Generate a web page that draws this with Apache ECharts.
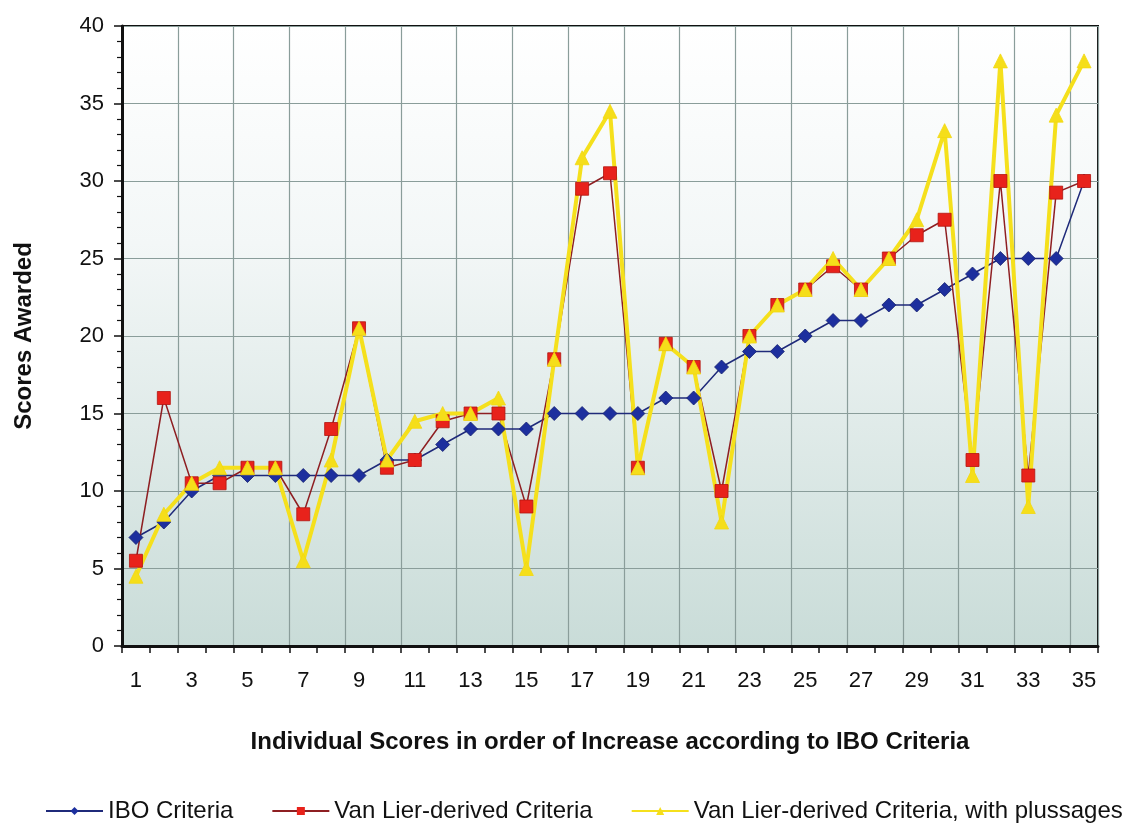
<!DOCTYPE html>
<html>
<head>
<meta charset="utf-8">
<title>Scores Awarded</title>
<script src="https://cdn.jsdelivr.net/npm/echarts@6/dist/echarts.min.js"></script>
<style>
  html, body { margin: 0; padding: 0; background: #ffffff; }
  #chart { width: 1141px; height: 828px; }
</style>
</head>
<body>
<div id="chart"></div>
<script>
// Individual scores, ordered by increasing IBO score
const categories = ['1','2','3','4','5','6','7','8','9','10','11','12','13','14','15','16','17','18',
  '19','20','21','22','23','24','25','26','27','28','29','30','31','32','33','34','35'];

const iboCriteria = [7, 8, 10, 11, 11, 11, 11, 11, 11, 12, 12, 13, 14, 14, 14, 15, 15, 15,
  15, 16, 16, 18, 19, 19, 20, 21, 21, 22, 22, 23, 24, 25, 25, 25, 30];

const vanLier = [5.5, 16, 10.5, 10.5, 11.5, 11.5, 8.5, 14, 20.5, 11.5, 12, 14.5, 15, 15, 9, 18.5, 29.5, 30.5,
  11.5, 19.5, 18, 10, 20, 22, 23, 24.5, 23, 25, 26.5, 27.5, 12, 30, 11, 29.25, 30];

const vanLierPlus = [4.5, 8.5, 10.5, 11.5, 11.5, 11.5, 5.5, 12, 20.5, 12, 14.5, 15, 15, 16, 5, 18.5, 31.5, 34.5,
  11.5, 19.5, 18, 8, 20, 22, 23, 25, 23, 25, 27.5, 33.25, 11, 37.75, 9, 34.25, 37.75];

const seriesNames = ['IBO Criteria', 'Van Lier-derived Criteria', 'Van Lier-derived Criteria, with plussages'];

const chart = echarts.init(document.getElementById('chart'), null, { renderer: 'canvas' });

const styles = [
  { data: iboCriteria, line: '#1f2a7a', lineWidth: 1.5, fill: '#1d2f9e', border: '#14206e', symbol: 'diamond', size: 14, legendSize: 9 },
  { data: vanLier, line: '#8e1f22', lineWidth: 1.5, fill: '#e8221b', border: '#b3140f', symbol: 'rect', size: 13, legendSize: 9 },
  { data: vanLierPlus, line: '#f5e01c', lineWidth: 4, fill: '#f5de1a', border: '#f2d80f', symbol: 'triangle', size: 14, legendSize: 9 }
];

// Lines first, markers on top of every line
const lineSeries = styles.map((s, i) => ({
  name: seriesNames[i],
  type: 'line',
  data: s.data,
  showSymbol: false,
  symbol: s.symbol,
  symbolSize: s.legendSize,
  itemStyle: { color: s.fill },
  lineStyle: { color: s.line, width: s.lineWidth },
  z: 3,
  animation: false
}));

const markerSeries = styles.map((s, i) => ({
  name: seriesNames[i],
  type: 'scatter',
  data: s.data,
  symbol: s.symbol,
  symbolSize: s.size,
  itemStyle: { color: s.fill, borderColor: s.border, borderWidth: 0.8, opacity: 1 },
  z: 4,
  animation: false
}));

const option = {
  backgroundColor: '#ffffff',
  textStyle: { fontFamily: 'Liberation Sans, Arial, sans-serif' },
  grid: {
    left: 122, top: 26, right: 43, bottom: 182,
    show: true,
    borderColor: '#111111',
    borderWidth: 2,
    backgroundColor: {
      type: 'linear', x: 0, y: 0, x2: 0, y2: 1,
      colorStops: [
        { offset: 0, color: '#ffffff' },
        { offset: 0.35, color: '#f3f7f7' },
        { offset: 1, color: '#c9dcd8' }
      ]
    }
  },
  legend: {
    bottom: 0,
    left: 40,
    itemWidth: 57,
    itemHeight: 10,
    itemGap: 38,
    textStyle: { fontSize: 24, color: '#111111', fontFamily: 'Liberation Sans, Arial, sans-serif' },
    data: seriesNames
  },
  xAxis: {
    type: 'category',
    data: categories,
    boundaryGap: true,
    name: 'Individual Scores in order of Increase according to IBO Criteria',
    nameLocation: 'middle',
    nameGap: 84,
    nameTextStyle: { fontSize: 24, fontWeight: 'bold', color: '#111111' },
    axisLine: { lineStyle: { color: '#111111', width: 3 } },
    axisTick: { show: true, interval: 0, length: 7, lineStyle: { color: '#111111', width: 1.5 } },
    axisLabel: { interval: 1, fontSize: 22, color: '#111111', margin: 24 },
    splitLine: { show: true, interval: 1, lineStyle: { color: '#8a9d9a', width: 1.2 } }
  },
  yAxis: {
    type: 'value',
    min: 0,
    max: 40,
    interval: 5,
    name: 'Scores Awarded',
    nameLocation: 'middle',
    nameGap: 86,
    nameTextStyle: { fontSize: 24, fontWeight: 'bold', color: '#111111' },
    axisLine: { show: true, lineStyle: { color: '#111111', width: 3 } },
    axisTick: { show: true, length: 8, lineStyle: { color: '#111111', width: 1.5 } },
    minorTick: { show: true, splitNumber: 5, length: 5, lineStyle: { color: '#111111', width: 1.2 } },
    axisLabel: { fontSize: 22, color: '#111111', margin: 18 },
    splitLine: { show: true, lineStyle: { color: '#8a9d9a', width: 1.2 } }
  },
  series: lineSeries.concat(markerSeries)
};

chart.setOption(option);
</script>
</body>
</html>
